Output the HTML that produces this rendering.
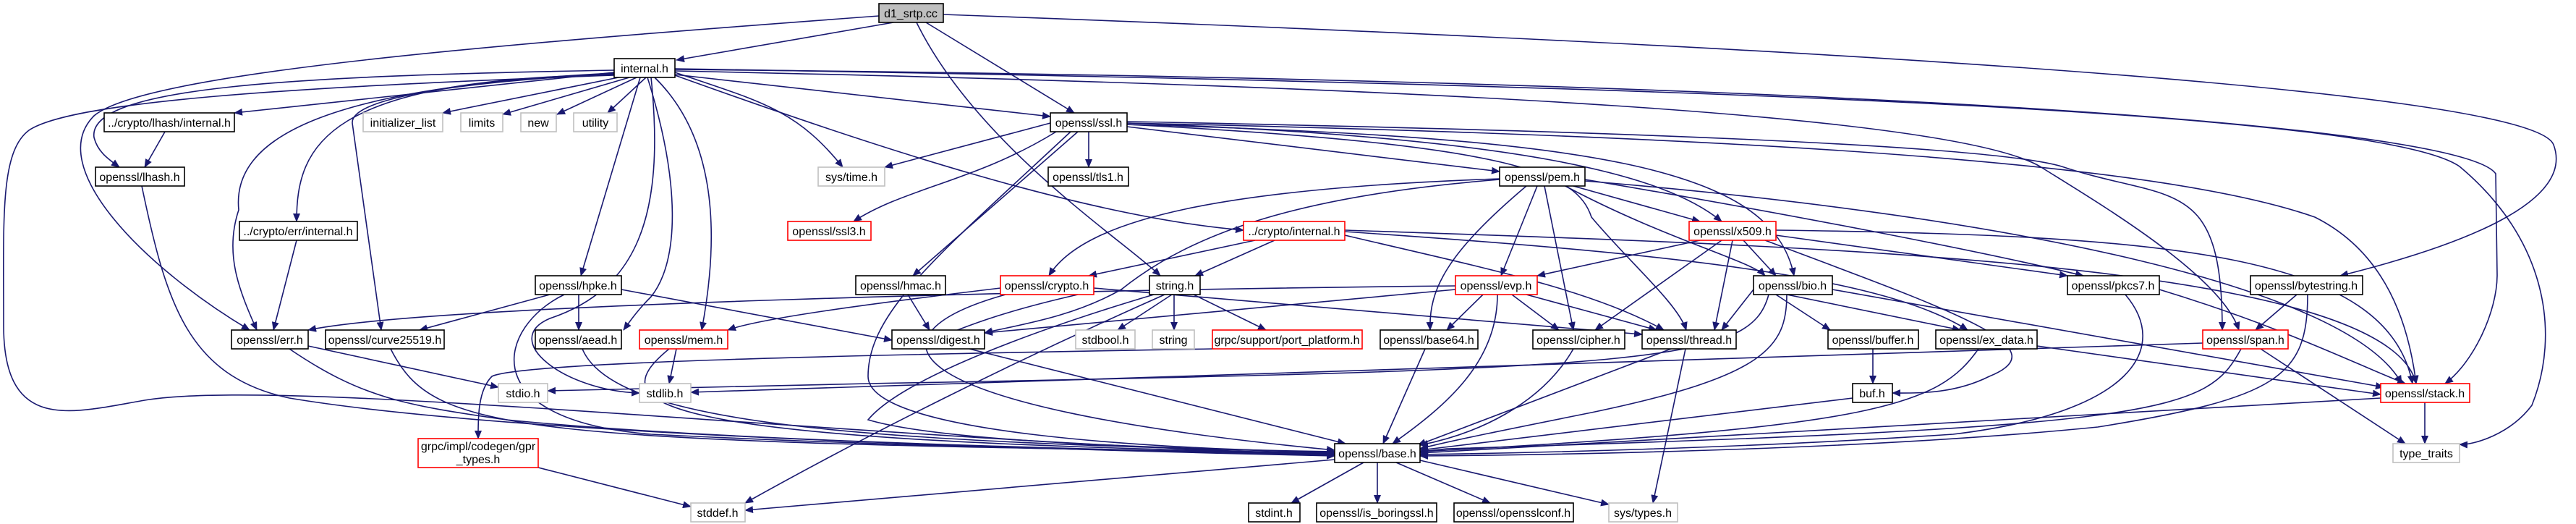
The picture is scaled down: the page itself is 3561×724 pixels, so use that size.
<!DOCTYPE html>
<html><head><meta charset="utf-8"><style>
html,body{margin:0;padding:0;background:#fff;}
svg{display:block;}
text{font-family:"Liberation Sans",sans-serif;font-size:16px;fill:#000;text-anchor:middle;}
.e{fill:none;stroke:#191970;stroke-width:1.6;marker-end:url(#a);}
.n{fill:#fff;stroke:#000;stroke-width:1.6;}
.r{fill:#fff;stroke:#ff0000;stroke-width:1.6;}
.g{fill:#fff;stroke:#bfbfbf;stroke-width:1.6;}
</style></head><body>
<svg width="3561" height="724" viewBox="0 0 3561 724" xmlns="http://www.w3.org/2000/svg">
<defs><marker id="a" markerWidth="12" markerHeight="10" refX="11" refY="5" orient="auto" markerUnits="userSpaceOnUse"><path d="M0,0 L12,5 L0,10 z" fill="#191970"/></marker></defs>
<g>
<!-- d1_srtp.cc edges -->
<path class="e" d="M1235,31 L935,83"/>
<path class="e" d="M1280,31 L1485,156"/>
<path class="e" d="M1267,31 C1350,200 1550,330 1604,381"/>
<path class="e" d="M1215,22 C700,60 200,100 130,160 C60,230 200,370 345,456"/>
<path class="e" d="M1304,20 C2400,60 3500,120 3530,200 C3560,280 3400,340 3235,381"/>
<!-- internal.h edges -->
<path class="e" d="M849,104 C400,120 100,140 40,180 C0,210 5,300 5,450 C5,600 100,570 200,553 C400,520 1200,610 1845,628"/>
<path class="e" d="M849,100 L324,156"/>
<path class="e" d="M849,97 C400,105 120,120 130,190 C135,210 150,220 165,231"/>
<path class="e" d="M855,107 L612,156"/>
<path class="e" d="M870,107 L695,158"/>
<path class="e" d="M880,107 L770,158"/>
<path class="e" d="M893,107 L840,156"/>
<path class="e" d="M933,100 C1050,140 1100,150 1165,231"/>
<path class="e" d="M933,103 L1452,161"/>
<path class="e" d="M849,103 C450,110 410,200 410,306"/>
<path class="e" d="M885,107 L803,381"/>
<path class="e" d="M849,101 C450,120 320,190 330,290 C310,350 330,400 355,456"/>
<path class="e" d="M849,102 C600,115 485,140 487,170 L527,456"/>
<path class="e" d="M895,107 C940,250 940,360 900,410 C880,430 870,445 862,456"/>
<path class="e" d="M905,107 C1000,200 990,350 970,456"/>
<path class="e" d="M900,107 C920,300 880,400 760,440 C690,470 780,540 884,543"/>
<path class="e" d="M933,104 C1200,200 1500,300 1719,318"/>
<path class="e" d="M933,98 C2000,120 2700,160 2820,230 C2900,280 3070,380 3095,456"/>
<path class="e" d="M933,96 C2500,110 3400,170 3450,240 L3452,380 C3452,430 3420,500 3380,530"/>
<path class="e" d="M933,95 C2500,120 3300,160 3400,230 C3520,330 3540,460 3500,560 C3470,600 3420,615 3400,614"/>
<!-- ssl.h edges -->
<path class="e" d="M1452,170 L1223,231"/>
<path class="e" d="M1505,182 L1505,231"/>
<path class="e" d="M1558,175 L2073,237"/>
<path class="e" d="M1460,182 C1350,250 1250,260 1180,306"/>
<path class="e" d="M1490,182 L1262,381"/>
<path class="e" d="M1480,182 C1300,350 1200,430 1200,520 C1200,600 1600,620 1845,625"/>
<path class="e" d="M1558,170 C2100,190 2300,240 2380,306"/>
<path class="e" d="M1558,172 C2100,200 2180,240 2200,300 C2250,360 2320,420 2331,456"/>
<path class="e" d="M1558,172 C2200,190 2450,230 2480,381"/>
<path class="e" d="M1558,170 C2500,190 3000,230 3200,300 C3300,350 3330,450 3340,530"/>
<path class="e" d="M1558,168 C2200,180 2750,200 2850,230 C3000,280 3072,240 3072,456"/>
<!-- pem.h -->
<path class="e" d="M2073,247 C1700,260 1500,300 1450,381"/>
<path class="e" d="M2073,248 C1800,270 1650,320 1550,400 C1480,440 1400,450 1361,460"/>
<path class="e" d="M2110,257 C2000,350 1975,400 1977,456"/>
<path class="e" d="M2125,257 L2075,381"/>
<path class="e" d="M2135,257 L2175,456"/>
<path class="e" d="M2175,257 L2350,306"/>
<path class="e" d="M2160,255 C2300,330 2420,360 2440,381"/>
<path class="e" d="M2191,248 C2500,300 2750,350 2880,381"/>
<path class="e" d="M2191,250 C2800,300 3250,400 3320,530"/>
<!-- crypto/internal.h -->
<path class="e" d="M1735,332 L1505,381"/>
<path class="e" d="M1762,332 L1652,381"/>
<path class="e" d="M1859,325 C2050,370 2200,400 2300,456"/>
<path class="e" d="M1859,320 C2300,350 2600,380 2720,456"/>
<path class="e" d="M1859,318 C2500,340 3300,360 3340,530"/>
<!-- x509.h -->
<path class="e" d="M2350,332 L2125,381"/>
<path class="e" d="M2410,332 L2455,381"/>
<path class="e" d="M2395,332 L2370,456"/>
<path class="e" d="M2380,332 L2205,456"/>
<path class="e" d="M2455,325 L2858,381"/>
<path class="e" d="M2455,318 C3000,325 3300,350 3335,530"/>
<path class="e" d="M2440,332 C2700,430 2850,480 2750,520 C2700,545 2650,543 2616,543"/>
<!-- evp.h -->
<path class="e" d="M2050,407 L2000,456"/>
<path class="e" d="M2090,407 L2155,456"/>
<path class="e" d="M2110,407 L2290,456"/>
<path class="e" d="M2070,407 C2070,500 2000,560 1925,613"/>
<path class="e" d="M2012,395 C1500,400 600,420 426,456"/>
<path class="e" d="M2012,400 L1361,460"/>
<!-- crypto.h -->
<path class="e" d="M1383,398 C1200,420 1050,440 1006,456"/>
<path class="e" d="M1512,398 L2270,462"/>
<path class="e" d="M1390,407 C1200,460 1200,560 1845,622"/>
<!-- string.h -->
<path class="e" d="M1620,407 L1545,456"/>
<path class="e" d="M1623,407 L1623,456"/>
<path class="e" d="M1650,407 L1750,456"/>
<path class="e" d="M1610,407 C1400,500 1200,600 1030,695"/>
<path class="e" d="M1595,407 C1450,450 1250,520 1200,580 C1300,610 1600,620 1845,624"/>
<!-- hpke -->
<path class="e" d="M800,407 L800,456"/>
<path class="e" d="M760,407 L580,456"/>
<path class="e" d="M859,400 L1233,470"/>
<path class="e" d="M780,407 C690,450 650,580 900,600 C1300,620 1700,625 1845,627"/>
<!-- misc -->
<path class="e" d="M1490,407 C1300,450 1300,480 1285,456"/>
<path class="e" d="M1255,407 L1285,456"/>
<path class="e" d="M228,182 L200,231"/>
<path class="e" d="M196,257 C230,420 260,520 400,550 C700,600 1400,620 1845,630"/>
<path class="e" d="M410,332 L378,456"/>
<path class="e" d="M426,478 L689,535"/>
<path class="e" d="M400,482 C500,550 560,560 700,580 C1000,610 1500,620 1845,629"/>
<path class="e" d="M540,482 C600,600 700,610 1845,626"/>
<path class="e" d="M805,482 C850,590 1200,610 1845,625"/>
<path class="e" d="M935,482 L925,530"/>
<path class="e" d="M925,482 C830,560 880,610 1845,626"/>
<path class="e" d="M744,646 L955,700"/>
<path class="e" d="M1845,635 L1030,705"/>
<path class="e" d="M1885,639 L1785,695"/>
<path class="e" d="M1904,639 L1904,695"/>
<path class="e" d="M1930,639 L2060,695"/>
<path class="e" d="M1963,636 L2224,697"/>
<path class="e" d="M2330,482 L2285,695"/>
<path class="e" d="M2310,482 L1960,615"/>
<path class="e" d="M1340,482 L1860,613"/>
<path class="e" d="M1970,482 L1912,613"/>
<path class="e" d="M2175,482 C2130,560 2040,600 1963,615"/>
<!-- bio.h -->
<path class="e" d="M2455,407 L2530,456"/>
<path class="e" d="M2470,407 L2710,456"/>
<path class="e" d="M2533,400 L3295,535"/>
<path class="e" d="M2424,400 L2380,456"/>
<path class="e" d="M2470,407 C2470,480 2440,520 2200,570 C2100,590 2000,610 1963,620"/>
<path class="e" d="M2445,407 C2420,500 2300,510 1200,530 L757,540"/>
<path class="e" d="M2589,482 L2589,530"/>
<path class="e" d="M2561,550 L1963,622"/>
<path class="e" d="M2735,482 C2680,560 2600,590 1963,624"/>
<path class="e" d="M2816,478 L3291,545"/>
<path class="e" d="M3045,474 L955,542"/>
<path class="e" d="M3098,482 C3050,570 3000,590 2000,620 L1963,624"/>
<path class="e" d="M3125,482 L3325,613"/>
<path class="e" d="M2938,407 C3000,480 2950,570 2700,600 C2400,620 2100,626 1963,628"/>
<path class="e" d="M2985,400 C3150,450 3250,500 3325,530"/>
<path class="e" d="M3175,407 L3118,456"/>
<path class="e" d="M3190,407 C3190,520 3150,550 2900,590 C2600,620 2200,628 1963,630"/>
<path class="e" d="M3291,550 L1963,626"/>
<path class="e" d="M3352,556 L3352,613"/>
<path class="e" d="M1676,482 C1200,490 720,500 680,520 C660,540 661,580 661,606"/>
</g>
<g>
<rect x="1215" y="5" width="89" height="26" fill="#bfbfbf" stroke="#000" stroke-width="1.6"/><text x="1259" y="24">d1_srtp.cc</text>
<rect class="n" x="849" y="81" width="84" height="26"/><text x="891" y="100">internal.h</text>
<rect class="n" x="144" y="156" width="180" height="26"/><text x="234" y="175">../crypto/lhash/internal.h</text>
<rect class="g" x="502" y="156" width="110" height="26"/><text x="557" y="175" fill="#000">initializer_list</text>
<rect class="g" x="637" y="156" width="58" height="26"/><text x="666" y="175">limits</text>
<rect class="g" x="720" y="156" width="49" height="26"/><text x="744" y="175">new</text>
<rect class="g" x="793" y="156" width="60" height="26"/><text x="823" y="175">utility</text>
<rect class="n" x="1452" y="156" width="106" height="26"/><text x="1505" y="175">openssl/ssl.h</text>
<rect class="n" x="132" y="231" width="123" height="26"/><text x="193" y="250">openssl/lhash.h</text>
<rect class="g" x="1131" y="231" width="92" height="26"/><text x="1177" y="250">sys/time.h</text>
<rect class="n" x="1449" y="231" width="111" height="26"/><text x="1504" y="250">openssl/tls1.h</text>
<rect class="n" x="2073" y="231" width="118" height="26"/><text x="2132" y="250">openssl/pem.h</text>
<rect class="n" x="331" y="306" width="163" height="26"/><text x="412" y="325">../crypto/err/internal.h</text>
<rect class="r" x="1089" y="306" width="115" height="26"/><text x="1146" y="325">openssl/ssl3.h</text>
<rect class="r" x="1719" y="306" width="140" height="26"/><text x="1789" y="325">../crypto/internal.h</text>
<rect class="r" x="2335" y="306" width="120" height="26"/><text x="2395" y="325">openssl/x509.h</text>
<rect class="n" x="740" y="381" width="119" height="26"/><text x="799" y="400">openssl/hpke.h</text>
<rect class="n" x="1183" y="381" width="124" height="26"/><text x="1245" y="400">openssl/hmac.h</text>
<rect class="r" x="1383" y="381" width="129" height="26"/><text x="1447" y="400">openssl/crypto.h</text>
<rect class="n" x="1589" y="381" width="70" height="26"/><text x="1624" y="400">string.h</text>
<rect class="r" x="2012" y="381" width="113" height="26"/><text x="2068" y="400">openssl/evp.h</text>
<rect class="n" x="2424" y="381" width="109" height="26"/><text x="2478" y="400">openssl/bio.h</text>
<rect class="n" x="2858" y="381" width="127" height="26"/><text x="2921" y="400">openssl/pkcs7.h</text>
<rect class="n" x="3111" y="381" width="155" height="26"/><text x="3188" y="400">openssl/bytestring.h</text>
<rect class="n" x="320" y="456" width="106" height="26"/><text x="373" y="475">openssl/err.h</text>
<rect class="n" x="450" y="456" width="164" height="26"/><text x="532" y="475">openssl/curve25519.h</text>
<rect class="n" x="740" y="456" width="119" height="26"/><text x="799" y="475">openssl/aead.h</text>
<rect class="r" x="884" y="456" width="122" height="26"/><text x="945" y="475">openssl/mem.h</text>
<rect class="n" x="1233" y="456" width="128" height="26"/><text x="1297" y="475">openssl/digest.h</text>
<rect class="g" x="1487" y="456" width="82" height="26"/><text x="1528" y="475">stdbool.h</text>
<rect class="g" x="1593" y="456" width="58" height="26"/><text x="1622" y="475">string</text>
<rect class="r" x="1676" y="456" width="207" height="26"/><text x="1779" y="475">grpc/support/port_platform.h</text>
<rect class="n" x="1908" y="456" width="135" height="26"/><text x="1975" y="475">openssl/base64.h</text>
<rect class="n" x="2119" y="456" width="127" height="26"/><text x="2182" y="475">openssl/cipher.h</text>
<rect class="n" x="2270" y="456" width="130" height="26"/><text x="2335" y="475">openssl/thread.h</text>
<rect class="n" x="2527" y="456" width="125" height="26"/><text x="2589" y="475">openssl/buffer.h</text>
<rect class="n" x="2676" y="456" width="140" height="26"/><text x="2746" y="475">openssl/ex_data.h</text>
<rect class="r" x="3045" y="456" width="118" height="26"/><text x="3104" y="475">openssl/span.h</text>
<rect class="g" x="689" y="530" width="68" height="26"/><text x="723" y="549">stdio.h</text>
<rect class="g" x="884" y="530" width="71" height="26"/><text x="919" y="549">stdlib.h</text>
<rect class="n" x="2561" y="530" width="55" height="26"/><text x="2588" y="549">buf.h</text>
<rect class="r" x="3291" y="530" width="123" height="26"/><text x="3352" y="549">openssl/stack.h</text>
<rect class="r" x="578" y="606" width="166" height="40"/><text x="661" y="622">grpc/impl/codegen/gpr</text><text x="661" y="640">_types.h</text>
<rect class="n" x="1845" y="613" width="118" height="26"/><text x="1904" y="632">openssl/base.h</text>
<rect class="g" x="3308" y="613" width="92" height="26"/><text x="3354" y="632">type_traits</text>
<rect class="g" x="955" y="695" width="75" height="26"/><text x="992" y="714">stddef.h</text>
<rect class="n" x="1726" y="695" width="71" height="26"/><text x="1761" y="714">stdint.h</text>
<rect class="n" x="1820" y="695" width="166" height="26"/><text x="1903" y="714">openssl/is_boringssl.h</text>
<rect class="n" x="2010" y="695" width="165" height="26"/><text x="2092" y="714">openssl/opensslconf.h</text>
<rect class="g" x="2224" y="695" width="95" height="26"/><text x="2271" y="714">sys/types.h</text>
</g>
</svg>
</body></html>
